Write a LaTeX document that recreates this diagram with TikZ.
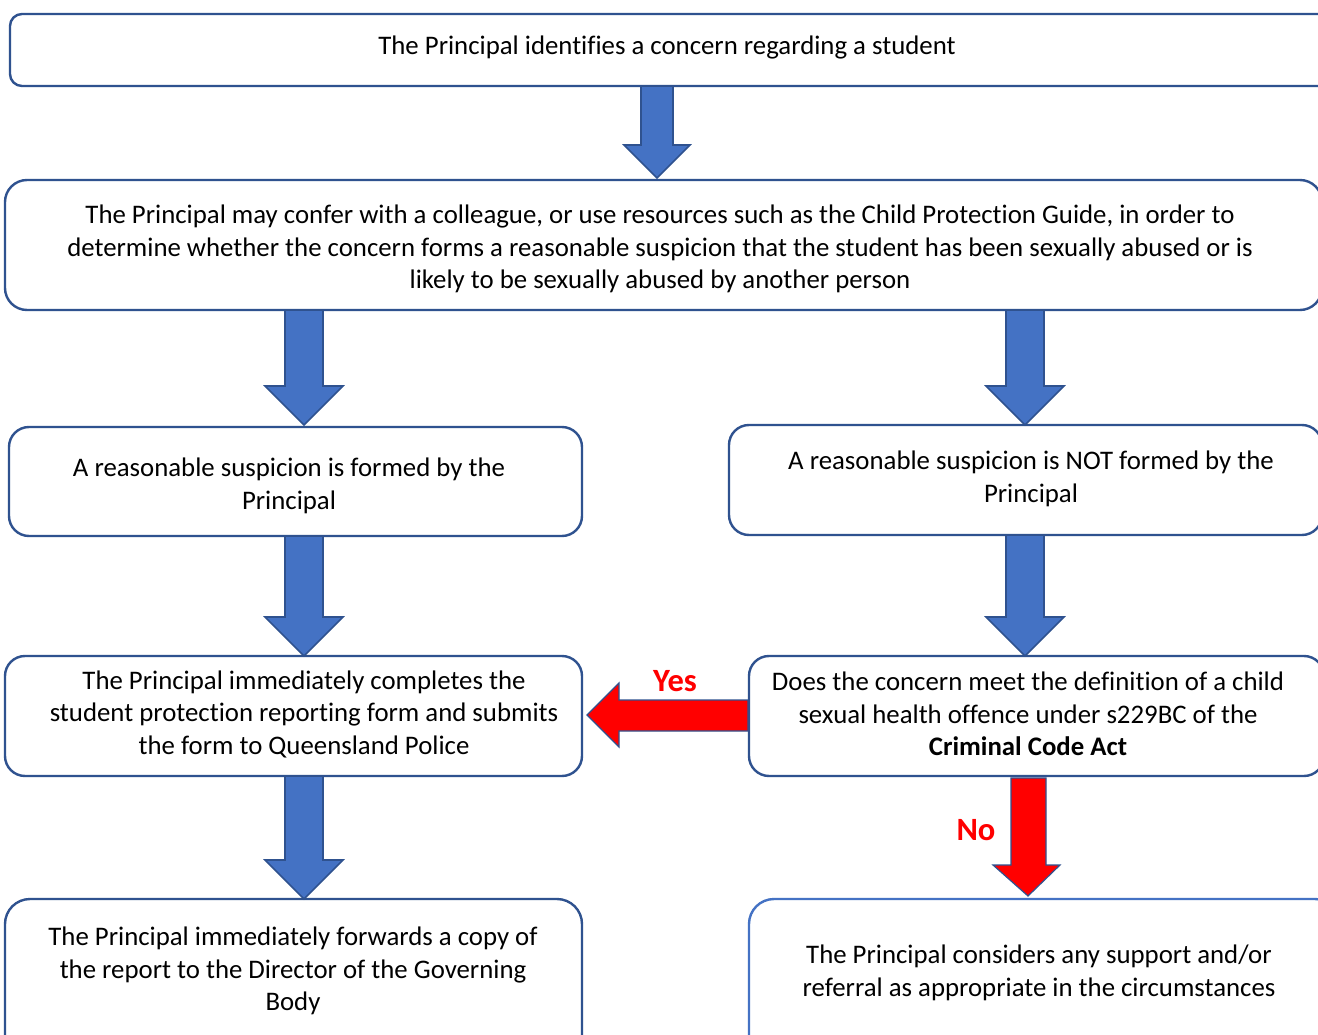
\documentclass[tikz,border=0pt]{standalone}
\usepackage{fontspec}
\setmainfont[Ligatures={NoCommon}]{Carlito}
\begin{document}
\begin{tikzpicture}[x=1pt,y=-1pt,
  box/.style={draw=boxblue,line width=2.4pt,rounded corners=20pt,fill=white},
  txt/.style={align=center,font=\fontsize{26.8}{32.5}\selectfont,inner sep=0pt},
  barrow/.style={fill=arrblue,draw=boxblue,line width=1.6pt,line join=miter},
  rarrow/.style={fill=red,draw=boxblue,line width=1.2pt,line join=miter},
  lab/.style={text=red,font=\fontsize{32.5}{36}\selectfont\bfseries,inner sep=0pt}]
\definecolor{boxblue}{HTML}{2F528F}
\definecolor{arrblue}{HTML}{4472C4}
\useasboundingbox (0,0) rectangle (1318,1035);
\clip (0,0) rectangle (1318,1035);
\fill[white] (0,0) rectangle (1318,1035);
% boxes
\draw[box,rounded corners=12pt] (10,14) rectangle (1340,86);
\draw[box,rounded corners=22pt] (5,180) rectangle (1322,310);
\draw[box] (9,427) rectangle (582,536);
\draw[box] (729,425) rectangle (1322,535);
\draw[box] (5,656) rectangle (582,776);
\draw[box] (749,656) rectangle (1324,776);
\draw[box,rounded corners=25pt] (5,899) rectangle (582,1070);
\draw[box,rounded corners=25pt,draw=arrblue] (749,899) rectangle (1340,1070);
% texts
\node[txt] (t1) at (667,48) {The Principal identifies a concern regarding a student};
\node[txt] (t2) at (660,249) {The Principal may confer with a colleague, or use resources such as the Child Protection Guide, in order to\\determine whether the concern forms a reasonable suspicion that the student has been sexually abused or is\\likely to be sexually abused by another person};
\node[txt] (t3) at (289,486) {A reasonable suspicion is formed by the\\Principal};
\node[txt] (t4) at (1031,479) {A reasonable suspicion is NOT formed by the\\Principal};
\node[txt] (t5) at (304,714) {The Principal immediately completes the\\student protection reporting form and submits\\the form to Queensland Police};
\node[txt] (t6) at (1028,714) {Does the concern meet the definition of a child\\sexual health offence under s229BC of the\\\textbf{Criminal Code Act}};
\node[txt] (t7) at (293,971) {The Principal immediately forwards a copy of\\the report to the Director of the Governing\\Body};
\node[txt] (t8) at (1039,973) {The Principal considers any support and/or\\referral as appropriate in the circumstances};
% blue block arrows
\draw[barrow] (641,86) -- (641,145) -- (624,145) -- (657,178) -- (690,145) -- (673,145) -- (673,86) -- cycle;
\draw[barrow] (285,310) -- (285,386) -- (265,386) -- (304,425) -- (343,386) -- (323,386) -- (323,310) -- cycle;
\draw[barrow] (1006,310) -- (1006,386) -- (986,386) -- (1025,425) -- (1064,386) -- (1044,386) -- (1044,310) -- cycle;
\draw[barrow] (285,536) -- (285,617) -- (265,617) -- (304,656) -- (343,617) -- (323,617) -- (323,536) -- cycle;
\draw[barrow] (1006,535) -- (1006,617) -- (986,617) -- (1025,656) -- (1064,617) -- (1044,617) -- (1044,535) -- cycle;
\draw[barrow] (285,776) -- (285,860) -- (265,860) -- (304,899) -- (343,860) -- (323,860) -- (323,776) -- cycle;
% red arrows
\draw[rarrow] (748,700) -- (619,700) -- (619,683) -- (587,715) -- (619,747) -- (619,731) -- (748,731) -- cycle;
\draw[rarrow] (1011,778) -- (1011,865) -- (993,865) -- (1028,896) -- (1060,865) -- (1046,865) -- (1046,778) -- cycle;
\node[lab] (yes) at (675,681) {Yes};
\node[lab] (no) at (976,830) {No};
\end{tikzpicture}
\end{document}
